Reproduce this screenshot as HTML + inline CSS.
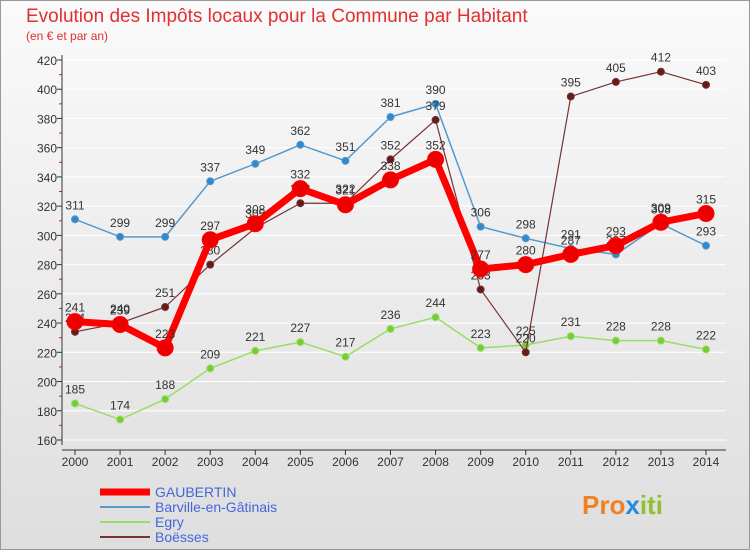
<!DOCTYPE html>
<html><head><meta charset="utf-8"><style>
body{margin:0;width:750px;height:550px;overflow:hidden;font-family:"Liberation Sans","DejaVu Sans",sans-serif;}
</style></head><body>
<svg width="750" height="550" viewBox="0 0 750 550" xmlns="http://www.w3.org/2000/svg">
<defs><linearGradient id="bg" x1="0" y1="0" x2="0" y2="1"><stop offset="0" stop-color="#fafafa"/><stop offset="1" stop-color="#dedede"/></linearGradient></defs>
<rect x="0.5" y="0.5" width="749" height="549" fill="url(#bg)" stroke="#999"/>
<text x="26" y="22" font-size="19" fill="#e03030">Evolution des Impôts locaux pour la Commune par Habitant</text>
<text x="26" y="40" font-size="12" fill="#e03030">(en € et par an)</text>
<g id="grid"></g><g id="axes"></g><g id="series"></g><g id="legend"></g>
<text x="582" y="514" font-size="26" font-weight="bold" fill="#f08020">Pro<tspan fill="#2a8ad8">x</tspan><tspan fill="#90c030">iti</tspan></text>
</svg>
<script>
const years=[2000,2001,2002,2003,2004,2005,2006,2007,2008,2009,2010,2011,2012,2013,2014];
const gaubertin=[241,239,223,297,308,332,321,338,352,277,280,287,293,309,315];
const barville=[311,299,299,337,349,362,351,381,390,306,298,291,287,308,293];
const egry=[185,174,188,209,221,227,217,236,244,223,225,231,228,228,222];
const boesses=[234,240,251,280,305,322,322,352,379,263,220,395,405,412,403];
const yTicks=[160,180,200,220,240,260,280,300,320,340,360,380,400,420];
const NS="http://www.w3.org/2000/svg";
const X0=75,X1=706,Y0=440,Y1=60,VMIN=160,VMAX=420;
const xs=i=>X0+(X1-X0)*i/(years.length-1);
const ys=v=>Y0-(v-VMIN)*(Y0-Y1)/(VMAX-VMIN);
function mk(tag,attrs,parent){const e=document.createElementNS(NS,tag);for(const k in attrs)e.setAttribute(k,attrs[k]);parent.appendChild(e);return e;}
const grid=document.getElementById('grid'),axes=document.getElementById('axes'),ser=document.getElementById('series'),leg=document.getElementById('legend');
yTicks.forEach(t=>{
 const l=mk('line',{x1:X0-13,x2:X1+20,y1:ys(t),y2:ys(t),stroke:'#fff','stroke-width':1},grid);
 
 
 const tx=mk('text',{x:X0-18,y:ys(t)+5,'font-size':12,fill:'#333','text-anchor':'end'},axes);
 tx.textContent=t;
 
 
 const tk=mk('line',{x1:X0-18,x2:X0-13,y1:ys(t),y2:ys(t),stroke:'#333'},axes);
 
 
 if(t<VMAX){const m=mk('line',{x1:X0-16,x2:X0-13,y1:ys(t+10),y2:ys(t+10),stroke:'#e02020'},axes);
 
 }
});
const ya=mk('line',{x1:X0-13,x2:X0-13,y1:Y1-5,y2:Y0+5,stroke:'#333'},axes);


const xa=mk('line',{x1:X0-13,x2:X1+20,y1:Y0+10,y2:Y0+10,stroke:'#333'},axes);


years.forEach((y,i)=>{
 const tk=mk('line',{x1:xs(i),x2:xs(i),y1:Y0+10,y2:Y0+15,stroke:'#333'},axes);
 
 
 const t=mk('text',{x:xs(i),y:Y0+26,'font-size':12,fill:'#333','text-anchor':'middle'},axes);
 t.textContent=y;
 
 
});
function draw(vals,name,color,w,r,dot){
 const g=mk('g',{},ser);
 
 
 const pl=mk('polyline',{points:vals.map((v,i)=>xs(i)+','+ys(v)).join(' '),fill:'none',stroke:color,'stroke-width':w,'stroke-linejoin':'round'},g);
 
 
 vals.forEach((v,i)=>{
  const c=mk('circle',{cx:xs(i),cy:ys(v),r:r,fill:dot,stroke:color,'stroke-width':1},g);
  
  
  const t=mk('text',{x:xs(i),y:ys(v)-10,'font-size':12,fill:'#333','text-anchor':'middle'},g);
  t.textContent=v;
  
  
 });
}
draw(egry,'egry','#99dd66',1.5,3.5,'#77cc33');
draw(barville,'barville','#5599cc',1.5,3.5,'#3388cc');
draw(boesses,'boesses','#773333',1.2,3.5,'#661a1a');
draw(gaubertin,'gaubertin','#ff0000',7,8,'#ee0000');
const items=[['GAUBERTIN','#ff0000',7],['Barville-en-Gâtinais','#5599cc',2],['Egry','#99dd66',2],['Boësses','#773333',2]];
items.forEach((it,i)=>{
 const y=492+i*15;
 const l=mk('line',{x1:100,x2:150,y1:y,y2:y,stroke:it[1],'stroke-width':it[2]},leg);
 
 
 const t=mk('text',{x:155,y:y+5,'font-size':14,fill:'#4466dd'},leg);
 t.textContent=it[0];
 
 
});
</script>
</body></html>
